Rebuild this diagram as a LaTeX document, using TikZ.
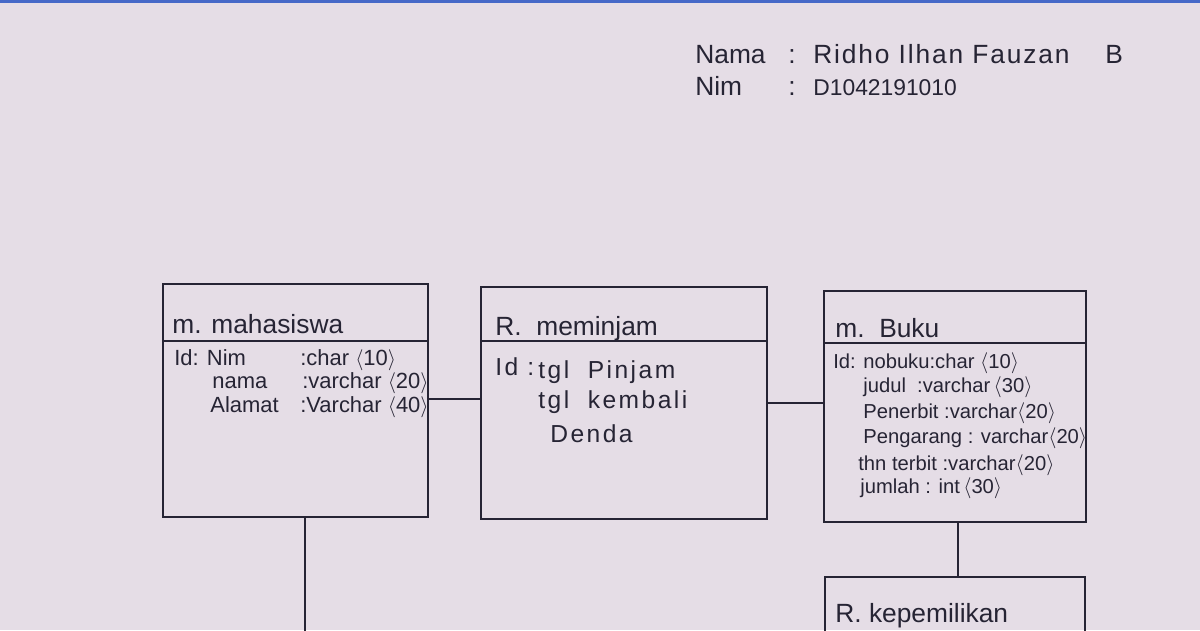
\documentclass[tikz,border=0pt]{standalone}
\usepackage{fontspec}
\setmainfont{Liberation Sans}
\usepackage{tikz}
\usetikzlibrary{positioning}
\definecolor{paper}{RGB}{229,221,230}
\definecolor{pen}{RGB}{38,36,52}
\definecolor{tape}{RGB}{70,105,200}
\newcommand{\typlen}[1]{$\langle$#1$\rangle$}

\begin{document}
\begin{tikzpicture}[x=0.02cm, y=-0.02cm,
  entbox/.style={draw=pen, line width=1pt, rectangle, inner sep=0pt, outer sep=0pt},
  link/.style={draw=pen, line width=1pt},
  ttl/.style={anchor=base west, text=pen, font=\fontsize{15}{17}\selectfont, inner sep=0pt},
  attr/.style={anchor=base west, text=pen, font=\fontsize{#1}{14}\selectfont, inner sep=0pt},
  attr/.default=12.5,
  wide/.style={anchor=base west, text=pen, font=\fontsize{14}{16}\selectfont\addfontfeature{LetterSpace=10}, inner sep=0pt},
  head/.style={anchor=base west, text=pen, font=\fontsize{15}{17}\selectfont, inner sep=0pt}]

% Paper
\useasboundingbox (0,0) rectangle (1200,630);
\clip (0,0) rectangle (1200,630);
\fill[paper] (0,0) rectangle (1200,630);
\fill[tape] (0,0) rectangle (1200,3);

% Name and number
\node[head] (nmlbl) at (695,63) {Nama};
\node[head] (nmcol) at (788,63) {:};
\node[head, font=\fontsize{15}{17}\selectfont\addfontfeature{LetterSpace=7}] (nmval) at (813,63) {Ridho Ilhan Fauzan};
\node[head] (nmini) at (1105,63) {B};
\node[head] (nimlbl) at (695,95) {Nim};
\node[head] (nimcol) at (788,95) {:};
\node[head, font=\fontsize{13}{15}\selectfont] (nimval) at (813,95) {D1042191010};

% Boxes
\node[entbox, minimum width=5.3cm, minimum height=4.66cm] (mhs) at (295.5,400.5) {};
\node[entbox, minimum width=5.72cm, minimum height=4.64cm] (pinjam) at (624,403) {};
\node[entbox, minimum width=5.24cm, minimum height=4.62cm] (buku) at (955,406.5) {};
\node[entbox, minimum width=5.2cm, minimum height=4.6cm] (milik) at (955,692) {};

% Title lines
\draw[link] (mhs.west |- 0,341) -- (mhs.east |- 0,341);
\draw[link] (pinjam.west |- 0,341) -- (pinjam.east |- 0,341);
\draw[link] (buku.west |- 0,343) -- (buku.east |- 0,343);

% m. mahasiswa
\node[ttl] (mhsttl) at (172,333) {m. mahasiswa};
\node[attr] (mhsa1) at (174,365) {Id: Nim};
\node[attr] (mhst1) at (300,365) {:char \typlen{10}};
\node[attr] (mhsa2) at (212,388) {nama};
\node[attr] (mhst2) at (302,388) {:varchar \typlen{20}};
\node[attr] (mhsa3) at (210,412) {Alamat};
\node[attr] (mhst3) at (300,412) {:Varchar \typlen{40}};

% R. meminjam
\node[ttl] (pinjamttl) at (495,335) {R.\ \ meminjam};
\node[wide] (pinjama1) at (495,375) {Id};
\node[wide] (pinjamcol) at (527,375) {:};
\node[wide] (pinjama2) at (538,378) {tgl\ \ Pinjam};
\node[wide] (pinjama3) at (538,408) {tgl\ \ kembali};
\node[wide] (pinjama4) at (550,442) {Denda};

% m. Buku
\node[ttl] (bukuttl) at (835,337) {m.\ \ Buku};
\node[attr=11.5] (bukua1) at (833,368) {Id: nobuku:char \typlen{10}};
\node[attr=11.5] (bukua2) at (863,392) {judul\ \ :varchar\,\typlen{30}};
\node[attr=11.5] (bukua3) at (863,418) {Penerbit\ :varchar\typlen{20}};
\node[attr=11.5] (bukua4) at (863,443) {Pengarang : varchar\typlen{20}};
\node[attr=11.5] (bukua5) at (858,470) {thn terbit :varchar\typlen{20}};
\node[attr=11.5] (bukua6) at (860,493) {jumlah\ : int\,\typlen{30}};

% R. kepemilikan
\node[ttl] (milikttl) at (835,622) {R.\ kepemilikan};

% Links
\coordinate (mhsend) at (305,640);
\draw[link] (mhs.east |- 0,399) -- (pinjam.west |- 0,399);
\draw[link] (pinjam.east |- 0,403) -- (buku.west |- 0,403);
\draw[link] (mhs.south -| mhsend) -- (mhsend);
\draw[link] (buku.south -| 958,0) -- (milik.north -| 958,0);

\end{tikzpicture}
\end{document}
